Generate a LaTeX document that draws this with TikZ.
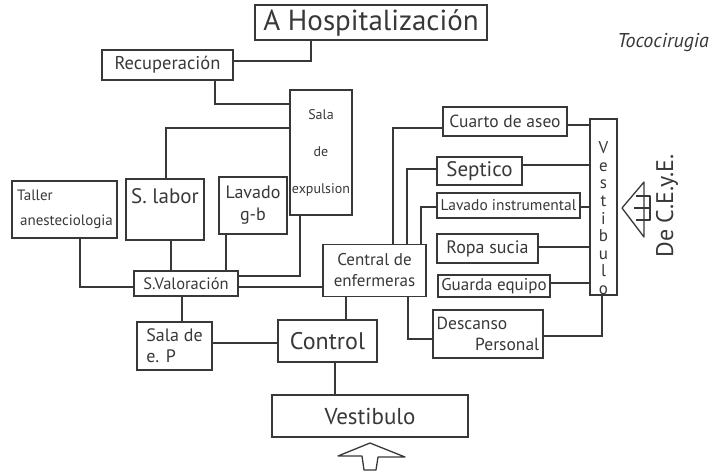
\documentclass[tikz,border=0pt]{standalone}
\usepackage{fontspec}
\setmainfont{PT Sans}
\definecolor{ink}{HTML}{383838}
\newcommand\fsz[2]{\fontsize{#1}{#2}\selectfont}
\begin{document}
\begin{tikzpicture}[x=1pt,y=-1pt,
  room/.style={draw=ink, line width=1.4pt, inner sep=2pt, align=center, text=ink},
  wire/.style={draw=ink, line width=1.4pt},
  arrowshape/.style={draw=ink, line width=1.3pt, line join=round}]
\useasboundingbox (0,0) rectangle (719,475);

% ---------- rooms ----------
\node[room, minimum width=232pt, minimum height=35pt, font=\fsz{29}{32}] (hosp) at (371,22.5) {A Hospitalización};
\node[room, minimum width=131pt, minimum height=30pt, font=\fsz{18.5}{21}] (recup) at (167.5,65) {Recuperación};
\node[room, minimum width=62pt, minimum height=125pt, font=\fsz{14}{16}] (sala) at (321,152.5) {Sala\\[21pt]de\\[21pt]expulsion};
\node[room, minimum width=105pt, minimum height=57pt, align=left, font=\fsz{15}{25}] (taller) at (64.5,209.5) {\hspace*{1pt}Taller\\\hspace*{4pt}anesteciologia};
\node[room, minimum width=78pt, minimum height=61pt,
      label={[anchor=north, yshift=-7pt, text=ink, font=\fsz{21}{23}]north:S. labor}] (slabor) at (165,209.5) {};
\node[room, minimum width=68pt, minimum height=57pt, font=\fsz{18}{22}] (lavgb) at (253,205.5) {Lavado\\g-b};
\node[room, minimum width=104pt, minimum height=25pt, font=\fsz{16.5}{18}] (sval) at (186,283.5) {S.Valoración};
\node[room, minimum width=103pt, minimum height=52pt, font=\fsz{17}{21}] (central) at (374.5,270.5) {Central de\\enfermeras};
\node[room, minimum width=75pt, minimum height=48pt, align=left, font=\fsz{18}{21}] (salaep) at (174.5,346) {Sala de\\e. P};
\node[room, minimum width=99pt, minimum height=42pt, font=\fsz{24}{26}] (control) at (327.5,341) {Control};
\node[room, minimum width=196pt, minimum height=42pt, font=\fsz{23}{25}] (vest) at (370,416) {Vestibulo};

\node[room, minimum width=124pt, minimum height=29pt, font=\fsz{17.5}{19}] (cuarto) at (505,121.5) {Cuarto de aseo};
\node[room, minimum width=85pt, minimum height=28pt, font=\fsz{21}{23}] (septico) at (479.5,171) {Septico};
\node[room, minimum width=143pt, minimum height=25pt, font=\fsz{15.5}{17}] (lavins) at (508.5,205.5) {Lavado instrumental};
\node[room, minimum width=101pt, minimum height=29pt, font=\fsz{18}{20}] (ropa) at (487.5,248.5) {Ropa sucia};
\node[room, minimum width=112pt, minimum height=22pt, font=\fsz{17}{19}] (guarda) at (494,286) {Guarda equipo};
\node[room, minimum width=110pt, minimum height=48pt, align=left, font=\fsz{17.5}{21}] (descanso) at (488,334) {Descanso\\\hspace*{2.2em}Personal};
\node[room, minimum width=27pt, minimum height=176pt,
      label={[anchor=north, yshift=-20pt, align=center, text=ink, font=\fsz{17}{17.6}]north:V\\e\\s\\t\\i\\b\\u\\l\\o}] (vcol) at (603.5,207) {};

% ---------- free captions ----------
\node[text=ink, font=\itshape\fsz{20}{22}] (toco) at (663,43) {Tococirugia};
\node[text=ink, rotate=90, font=\fsz{24}{26}] (ceye) at (667,206) {De C.E.y.E.};

% ---------- lanes used by the connectors ----------
\coordinate (vHosp) at (311,0);   \coordinate (hHosp) at (0,61);
\coordinate (vRecup) at (215,0);  \coordinate (hRecup) at (0,104);
\coordinate (vLabor) at (166,0);  \coordinate (hSala) at (0,128);
\coordinate (vTaller) at (80,0);  \coordinate (hSval) at (0,287);
\coordinate (vLaborB) at (171,0); \coordinate (hSala2) at (0,276);
\coordinate (vLavgb) at (226,0);  \coordinate (hEp) at (0,343);
\coordinate (vSala) at (300,0);
\coordinate (vSval) at (182,0);
\coordinate (vCtlA) at (346,0);
\coordinate (vCtlB) at (335,0);
\coordinate (vCuarto) at (393,0); \coordinate (hCuartoL) at (0,128); \coordinate (hCuartoR) at (0,125);
\coordinate (vSept) at (407,0);   \coordinate (hSeptL) at (0,169);   \coordinate (hSeptR) at (0,165);
\coordinate (vLavi) at (421,0);   \coordinate (hLavi) at (0,207);
\coordinate (hRopa) at (0,247);   \coordinate (hGuarda) at (0,283);
\coordinate (vDesc) at (408,0);   \coordinate (hDescL) at (0,339);   \coordinate (hDescR) at (0,336);
\coordinate (vVcol) at (602,0);

% ---------- connectors, left wing ----------
\draw[wire] (hosp.south -| vHosp) |- (recup.east |- hHosp);
\draw[wire] (recup.south -| vRecup) |- (sala.west |- hRecup);
\draw[wire] (sala.west |- hSala) -| (slabor.north -| vLabor);
\draw[wire] (taller.south -| vTaller) |- (sval.west |- hSval);
\draw[wire] (slabor.south -| vLaborB) -- (sval.north -| vLaborB);
\draw[wire] (lavgb.south -| vLavgb) -- (sval.north -| vLavgb);
\draw[wire] (sala.south -| vSala) |- (sval.east |- hSala2);
\draw[wire] (sval.east |- hSval) -- (central.west |- hSval);
\draw[wire] (sval.south -| vSval) -- (salaep.north -| vSval);
\draw[wire] (salaep.east |- hEp) -- (control.west |- hEp);
\draw[wire] (central.south -| vCtlA) -- (control.north -| vCtlA);
\draw[wire] (control.south -| vCtlB) -- (vest.north -| vCtlB);

% ---------- connectors, service wing ----------
\draw[wire] (central.north -| vCuarto) |- (cuarto.west |- hCuartoL);
\draw[wire] (central.north -| vSept) |- (septico.west |- hSeptL);
\draw[wire] (central.north -| vLavi) |- (lavins.west |- hLavi);
\draw[wire] (central.south -| vDesc) |- (descanso.west |- hDescL);
\draw[wire] (cuarto.east |- hCuartoR) -- (vcol.west |- hCuartoR);
\draw[wire] (septico.east |- hSeptR) -- (vcol.west |- hSeptR);
\draw[wire] (lavins.east |- hLavi) -- (vcol.west |- hLavi);
\draw[wire] (ropa.east |- hRopa) -- (vcol.west |- hRopa);
\draw[wire] (guarda.east |- hGuarda) -- (vcol.west |- hGuarda);
\draw[wire] (descanso.east |- hDescR) -| (vcol.south -| vVcol);

% ---------- entrance arrows ----------
\draw[arrowshape] (338,456) -- (370,443) -- (405,457) -- (378,457) -- (376,470) -- (364,470) -- (362,456) -- cycle;
\draw[arrowshape] (644,182) -- (622,208) -- (644,237) -- cycle;
\draw[arrowshape] (636,196) -- (650,196) -- (650,220) -- (636,220) (634,208) -- (650,208);
\end{tikzpicture}
\end{document}
